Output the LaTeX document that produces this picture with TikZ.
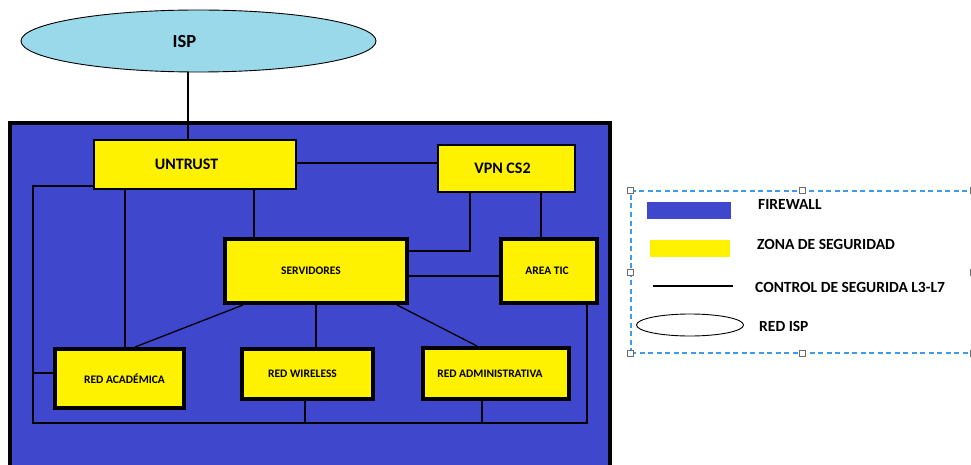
\documentclass[tikz,border=0pt]{standalone}
\usepackage{fontspec}
\setmainfont{Carlito}
\usetikzlibrary{shapes.geometric}
\definecolor{fwblue}{RGB}{63,72,204}
\definecolor{zoneyellow}{RGB}{255,242,0}
\definecolor{ispblue}{RGB}{153,217,234}
\definecolor{dashblue}{RGB}{60,155,230}
\definecolor{handlegray}{RGB}{110,110,110}
\newcommand{\shiftx}[1]{\hspace*{#1}}
\begin{document}
\begin{tikzpicture}[x=1pt,y=-1pt,
  bigfont/.style={font=\bfseries\fontsize{16}{16}\selectfont},
  smallfont/.style={font=\bfseries\fontsize{11.5}{12}\selectfont},
  legfont/.style={font=\bfseries\fontsize{15.5}{16}\selectfont},
  firewall/.style={draw=black, line width=4pt, fill=fwblue, inner sep=0pt, minimum width=600pt, minimum height=362pt},
  zonethin/.style={draw=black, line width=1.4pt, fill=zoneyellow, inner sep=0pt, bigfont},
  zonethick/.style={draw=black, line width=4pt, fill=zoneyellow, inner sep=0pt, smallfont},
  ispnode/.style={ellipse, draw=black, line width=0.9pt, fill=ispblue, inner sep=0pt, minimum width=355pt, minimum height=62pt, font=\bfseries\fontsize{18.5}{19}\selectfont},
  link/.style={draw=black, line width=1.3pt},
  legbox/.style={draw=dashblue, line width=1.3pt, dash pattern=on 5pt off 3.5pt, minimum width=342pt, minimum height=162pt, inner sep=0pt},
  handle/.style={draw=handlegray, fill=white, line width=0.8pt, minimum size=6pt, inner sep=0pt},
  legtext/.style={anchor=west, inner sep=0pt, legfont}
]
\useasboundingbox (0,0) rectangle (971,465);

% ISP cloud
\node[ispnode] (isp) at (198.5,41) {\shiftx{-28pt}ISP};

% firewall
\node[firewall] (fw) at (310,304) {};

% zones
\node[zonethin, minimum width=202pt, minimum height=49pt] (untrust) at (195,164.5) {\shiftx{-17pt}UNTRUST};
\node[zonethin, minimum width=137pt, minimum height=47pt] (vpn) at (506.5,168.5) {\shiftx{-8pt}VPN CS2};
\node[zonethick, minimum width=182pt, minimum height=64pt] (serv) at (316,271) {\shiftx{-10pt}SERVIDORES};
\node[zonethick, minimum width=96pt, minimum height=64pt] (tic) at (549,271) {\shiftx{-4pt}AREA TIC};
\node[zonethick, minimum width=129pt, minimum height=59pt] (acad) at (119.5,378.5) {\shiftx{10pt}RED ACADÉMICA};
\node[zonethick, minimum width=131pt, minimum height=50pt] (wifi) at (307.5,374) {\raisebox{1.5pt}{\shiftx{-10pt}RED WIRELESS}};
\node[zonethick, minimum width=146pt, minimum height=51pt] (admin) at (496,373.5) {\shiftx{-12pt}RED ADMINISTRATIVA};

% helper coordinates
\coordinate (leftcorner) at (33,186);
\coordinate (leftstub) at (33,373);
\coordinate (busL) at (33,423);
\coordinate (busR) at (587,423);
\coordinate (vpnbend) at (470,251);

% connectors
\draw[link] (isp.south -| 188,0) -- (untrust.north -| 188,0);
\draw[link] (untrust.east |- 0,163) -- (vpn.west |- 0,163);
\draw[link] (untrust.south -| 254,0) -- (serv.north -| 254,0);
\draw[link] (untrust.south -| 125,0) -- (acad.north -| 125,0);
\draw[link] (untrust.west |- leftcorner) -- (leftcorner) -- (busL) -- (busR) -- (tic.south -| busR);
\draw[link] (leftstub) -- (acad.west |- leftstub);
\draw[link] (vpn.south -| vpnbend) -- (vpnbend) -- (serv.east |- vpnbend);
\draw[link] (vpn.south -| 541,0) -- (tic.north -| 541,0);
\draw[link] (serv.east |- 0,276) -- (tic.west |- 0,276);
\draw[link] (serv.south -| 243,0) -- (acad.north -| 135,0);
\draw[link] (serv.south -| 316,0) -- (wifi.north -| 316,0);
\draw[link] (serv.south -| 397,0) -- (admin.north -| 477,0);
\draw[link] (wifi.south -| 305,0) -- (busL -| 305,0);
\draw[link] (admin.south -| 482,0) -- (busL -| 482,0);

% legend
\node[legbox] (legend) at (802,272) {};
\foreach \a in {north west,north,north east,west,east,south west,south,south east}
  \node[handle] at (legend.\a) {};
\node[fill=fwblue, minimum width=84pt, minimum height=17pt, inner sep=0pt] (legfw) at (689,210.5) {};
\node[fill=zoneyellow, minimum width=80pt, minimum height=17pt, inner sep=0pt] (legzone) at (690,248.5) {};
\coordinate (legl1) at (653,286);
\coordinate (legl2) at (733,286);
\draw[draw=black, line width=1.3pt] (legl1) -- (legl2);
\node[ellipse, draw=black, line width=0.9pt, fill=white, minimum width=107pt, minimum height=22pt, inner sep=0pt] (legisp) at (690,325) {};
\node[legtext] (t1) at (758,204) {FIREWALL};
\node[legtext] (t2) at (757,244) {ZONA DE SEGURIDAD};
\node[legtext] (t3) at (755,287) {CONTROL DE SEGURIDA L3-L7};
\node[legtext] (t4) at (759,326) {RED ISP};
\end{tikzpicture}
\end{document}
